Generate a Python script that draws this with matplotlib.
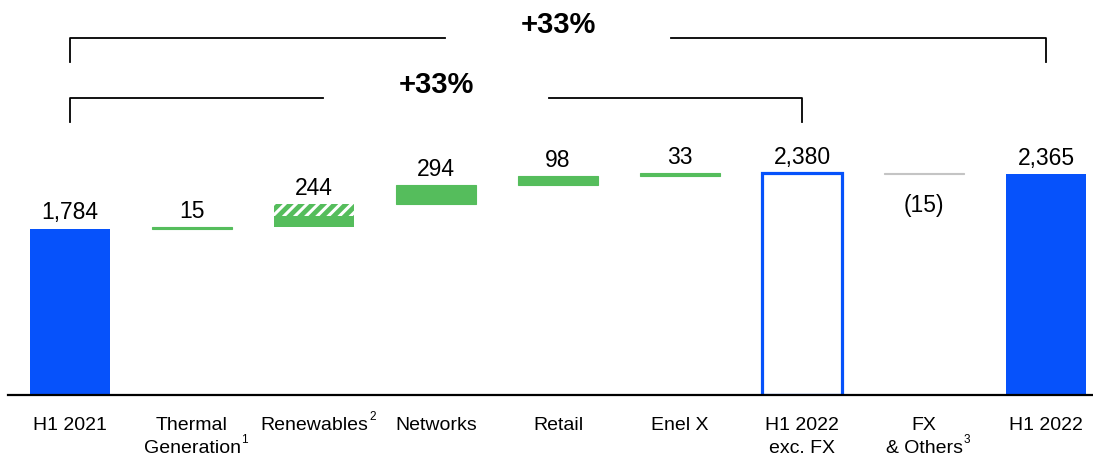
import matplotlib.pyplot as plt
import numpy as np

plt.rcParams['font.family'] = ['Liberation Sans', 'DejaVu Sans']
plt.rcParams['hatch.linewidth'] = 2.2

# categories along the x axis
categories = ['H1 2021', 'Thermal\nGeneration', 'Renewables', 'Networks', 'Retail',
              'Enel X', 'H1 2022\nexc. FX', 'FX\n& Others', 'H1 2022']
footnotes = {1: '1', 2: '2', 7: '3'}   # category index -> footnote mark

# values
start_value = 1784
step_labels = [15, 244, 294, 98, 33]        # printed values of the steps
step_drawn = [15, 244, 206, 98, 33]         # step heights as drawn in the picture
renew_hatched = 122                         # hatched part of the Renewables step
subtotal = 2380
fx_others = -15
end_value = 2365
growth_total = '+33%'
growth_subtotal = '+33%'

blue = '#0652FB'
green = '#55BD5C'
grey = '#C4C4C4'

fig = plt.figure(figsize=(10.93, 4.57), dpi=100)
ax = fig.add_axes([0, 62 / 457, 1, 395 / 457])

x = np.arange(len(categories))
w = 0.66

def label(xi, y, text, below=False):
    ax.annotate(text, (xi, y), xytext=(0, -14 if below else 3), textcoords='offset points',
                ha='center', va='top' if below else 'bottom', fontsize=16.5, clip_on=False)

# start bar
ax.bar(x[0], start_value, w, color=blue)
label(x[0], start_value, f'{start_value:,}')

# steps
bottoms = start_value + np.concatenate([[0], np.cumsum(step_drawn)[:-1]])
for i, (b, h, lab) in enumerate(zip(bottoms, step_drawn, step_labels)):
    xi = x[i + 1]
    if categories[xi] == 'Renewables':
        ax.bar(xi, h - renew_hatched, w, bottom=b, color=green)
        ax.bar(xi, renew_hatched, w, bottom=b + h - renew_hatched, facecolor=green,
               edgecolor='white', hatch='///', linewidth=0)
    else:
        ax.bar(xi, h, w, bottom=b, color=green, edgecolor=green, linewidth=0.8)
    label(xi, b + h, f'{lab:,}')

# subtotal (outlined)
ax.bar(x[6], subtotal, w, facecolor='white', edgecolor=blue, linewidth=2.3)
label(x[6], subtotal, f'{subtotal:,}')

# FX & others
ax.bar(x[7], -fx_others, w, bottom=subtotal + fx_others, color=grey, edgecolor=grey, linewidth=0.8)
label(x[7], subtotal + fx_others, f'({-fx_others})', below=True)

# end bar
ax.bar(x[8], end_value, w, color=blue)
label(x[8], end_value, f'{end_value:,}')

# brackets
def bracket(x0, x1, y, drop, text, gap=0.93):
    xm = (x0 + x1) / 2
    ax.plot([x0, x0, xm - gap], [y - drop, y, y], color='black', lw=1.3,
            solid_joinstyle='round', clip_on=False)
    ax.plot([xm + gap, x1, x1], [y, y, y - drop], color='black', lw=1.3,
            solid_joinstyle='round', clip_on=False)
    ax.text(xm, y + 140, text, ha='center', va='center', fontsize=21, fontweight='bold')

bracket(x[0], x[8], 3827, 257, growth_total)
bracket(x[0], x[6], 3184, 257, growth_subtotal)

ax.set_xlim(-0.574, 8.385)
ax.set_ylim(0, 4234)
for s in ['top', 'right', 'left']:
    ax.spines[s].set_visible(False)
ax.spines['bottom'].set_bounds(-0.51, 8.385)
ax.spines['bottom'].set_linewidth(1.6)
ax.set_yticks([])
ax.set_xticks(x)
ax.set_xticklabels(categories, fontsize=14, linespacing=1.45, va='top')
ax.tick_params(axis='x', length=0, pad=16)

# footnote marks after the last line of the tick labels
fig.canvas.draw()
ticklabels = ax.get_xticklabels()
for i, mark in footnotes.items():
    bb = ticklabels[i].get_window_extent()
    fx, fy = fig.transFigure.inverted().transform((bb.x1 + 1, bb.y0 + 17))
    fig.text(fx, fy, mark, fontsize=8.5, ha='left', va='center')

fig.savefig('out.png', dpi=100)
